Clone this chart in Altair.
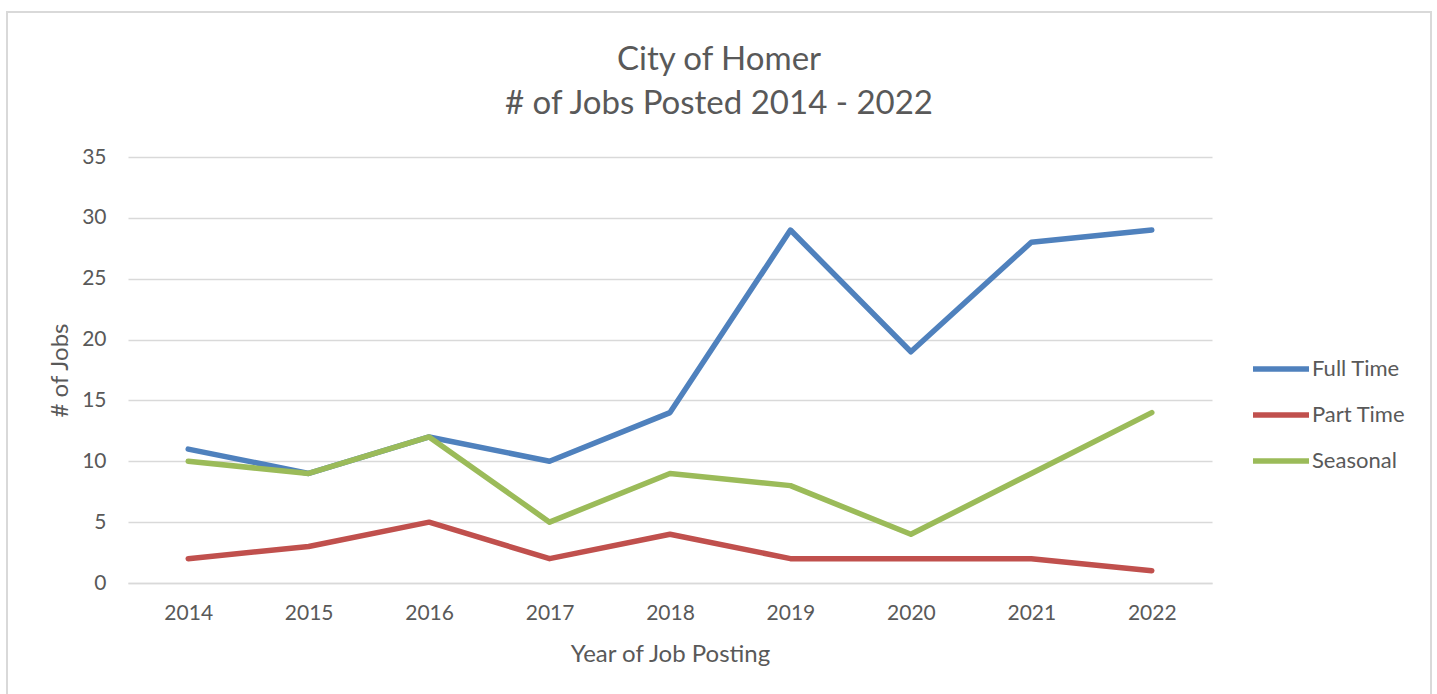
import altair as alt
import pandas as pd

years = ["2014", "2015", "2016", "2017", "2018", "2019", "2020", "2021", "2022"]
full_time = [11, 9, 12, 10, 14, 29, 19, 28, 29]
part_time = [2, 3, 5, 2, 4, 2, 2, 2, 1]
seasonal = [10, 9, 12, 5, 9, 8, 4, 9, 14]
series_names = ["Full Time", "Part Time", "Seasonal"]
series_colors = ["#4F81BD", "#C0504D", "#9BBB59"]

rows = []
for name, vals in zip(series_names, [full_time, part_time, seasonal]):
    for y, v in zip(years, vals):
        rows.append({"Year": y, "Jobs": v, "Series": name})
df = pd.DataFrame(rows)

FONT = "Lato"
TXT = "#595959"

lines = alt.Chart(df).mark_line(strokeWidth=5.5, strokeCap="round", strokeJoin="round").encode(
    x=alt.X("Year:O", sort=years,
            scale=alt.Scale(type="point", padding=0.5),
            axis=alt.Axis(title="Year of Job Posting", labelAngle=0, ticks=False,
                          domainColor="#d9d9d9", domainWidth=1.5, labelPadding=19,
                          labelFontSize=21, labelColor=TXT, labelFont=FONT,
                          titleFontSize=24, titleColor=TXT, titleFont=FONT, titleFontWeight="normal",
                          titleY=71, titleBaseline="middle")),
    y=alt.Y("Jobs:Q", scale=alt.Scale(domain=[0, 35]),
            axis=alt.Axis(title="# of Jobs", values=[0, 5, 10, 15, 20, 25, 30, 35], domain=False, ticks=False,
                          gridColor="#d9d9d9", gridWidth=1.5, labelPadding=22,
                          labelFontSize=21, labelColor=TXT, labelFont=FONT,
                          titleFontSize=24, titleColor=TXT, titleFont=FONT, titleFontWeight="normal",
                          titleX=-68, titleY=213, titleBaseline="middle", titleAngle=-90)),
    color=alt.Color("Series:N", sort=series_names,
                    scale=alt.Scale(domain=series_names, range=series_colors),
                    legend=alt.Legend(title=None, orient="none", legendX=1122, legendY=181,
                                      symbolType="stroke", symbolStrokeWidth=5.5, symbolSize=3136,
                                      labelFontSize=22, labelColor=TXT, labelFont=FONT,
                                      labelOffset=0, rowPadding=4)),
)

border = alt.Chart(pd.DataFrame({"a": [0]})).mark_rect(fill=None, stroke="#d9d9d9", strokeWidth=2).encode(
    x=alt.value(-121), x2=alt.value(1303), y=alt.value(-145), y2=alt.value(560)
)

chart = alt.layer(border, lines).properties(
    width=1084, height=426,
    padding={"left": 128, "top": 157, "right": 225, "bottom": 111},
    autosize=alt.AutoSizeParams(type="none"),
    title=alt.TitleParams(text=["City of Homer", "# of Jobs Posted 2014 - 2022"], fontSize=33,
                          font=FONT, color=TXT, fontWeight="normal", anchor="middle",
                          dx=49, dy=146, offset=36, lineHeight=44),
    background="white",
).configure_view(stroke=None)

chart.save("out.html", embed_options={"renderer": "svg", "actions": False})
